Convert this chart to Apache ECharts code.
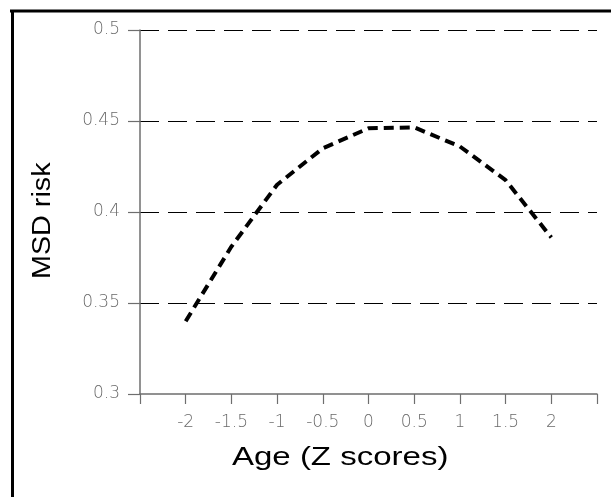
<!DOCTYPE html>
<html>
<head>
<meta charset="utf-8">
<script src="https://cdn.jsdelivr.net/npm/echarts@6/dist/echarts.min.js"></script>
<style>
html,body{margin:0;padding:0;background:#fff;}
#c{width:611px;height:497px;}
</style>
</head>
<body>
<div id="c"></div>
<script>
var ageZ = [-2, -1.5, -1, -0.5, 0, 0.5, 1, 1.5, 2];
var msdRisk = [0.340, 0.381, 0.415, 0.435, 0.446, 0.4465, 0.436, 0.4175, 0.386];
var xTickLabels = ['-2', '-1.5', '-1', '-0.5', '0', '0.5', '1', '1.5', '2'];
var yTickLabels = ['0.3', '0.35', '0.4', '0.45', '0.5'];

var chart = echarts.init(document.getElementById('c'), null, {renderer: 'canvas'});
var labelFont = {color: '#6a6a6a', fontFamily: 'DejaVu Sans', fontWeight: 200, fontSize: 17};
chart.setOption({
  animation: false,
  backgroundColor: '#fff',
  grid: {left: 140, top: 30, right: 14, bottom: 103, containLabel: false},
  xAxis: {
    type: 'value', min: -2.5, max: 2.5, interval: 0.5, position: 'bottom',
    axisLine: {show: true, onZero: false, symbol: ['none', 'none'], lineStyle: {color: '#6e6e6e', width: 1.5, type: 'solid'}},
    axisTick: {show: true, inside: false, length: 10, lineStyle: {color: '#6e6e6e', width: 1.2}},
    splitLine: {show: false},
    axisLabel: Object.assign({margin: 20, formatter: function (v) {
      var s = String(Math.round(v * 10) / 10);
      return xTickLabels.indexOf(s) >= 0 ? s : '';
    }}, labelFont)
  },
  yAxis: {
    type: 'value', min: 0.3, max: 0.5, interval: 0.05,
    axisLine: {show: true, onZero: false, lineStyle: {color: '#6e6e6e', width: 1.5}},
    axisTick: {show: true, length: 12, lineStyle: {color: '#6e6e6e', width: 1.2}},
    splitLine: {show: true, showMinLine: false, lineStyle: {color: '#000', width: 1, type: [19, 9]}},
    axisLabel: Object.assign({margin: 20, formatter: function (v) {
      var s = String(Math.round(v * 100) / 100);
      return yTickLabels.indexOf(s) >= 0 ? s : '';
    }}, labelFont)
  },
  graphic: [
    {type: 'line', shape: {x1: 10, y1: 11, x2: 611, y2: 11}, style: {stroke: '#000', lineWidth: 3}},
    {type: 'line', shape: {x1: 12.5, y1: 10, x2: 12.5, y2: 497}, style: {stroke: '#000', lineWidth: 3}},
    {type: 'text', x: 232, y: 446, scaleX: 1.32, style: {text: 'Age (Z scores)', fontSize: 25, fontFamily: 'Liberation Sans', fill: '#000'}},
    {type: 'text', rotation: Math.PI / 2, x: 31, y: 279, scaleX: 1.15, style: {text: 'MSD risk', fontSize: 25, fontFamily: 'Liberation Sans', fill: '#000'}}
  ],
  series: [{
    type: 'line',
    data: ageZ.map(function (x, i) { return [x, msdRisk[i]]; }),
    showSymbol: false, symbol: 'none', smooth: false,
    lineStyle: {color: '#000', width: 4, type: [10, 6]}
  }]
});
</script>
</body>
</html>
